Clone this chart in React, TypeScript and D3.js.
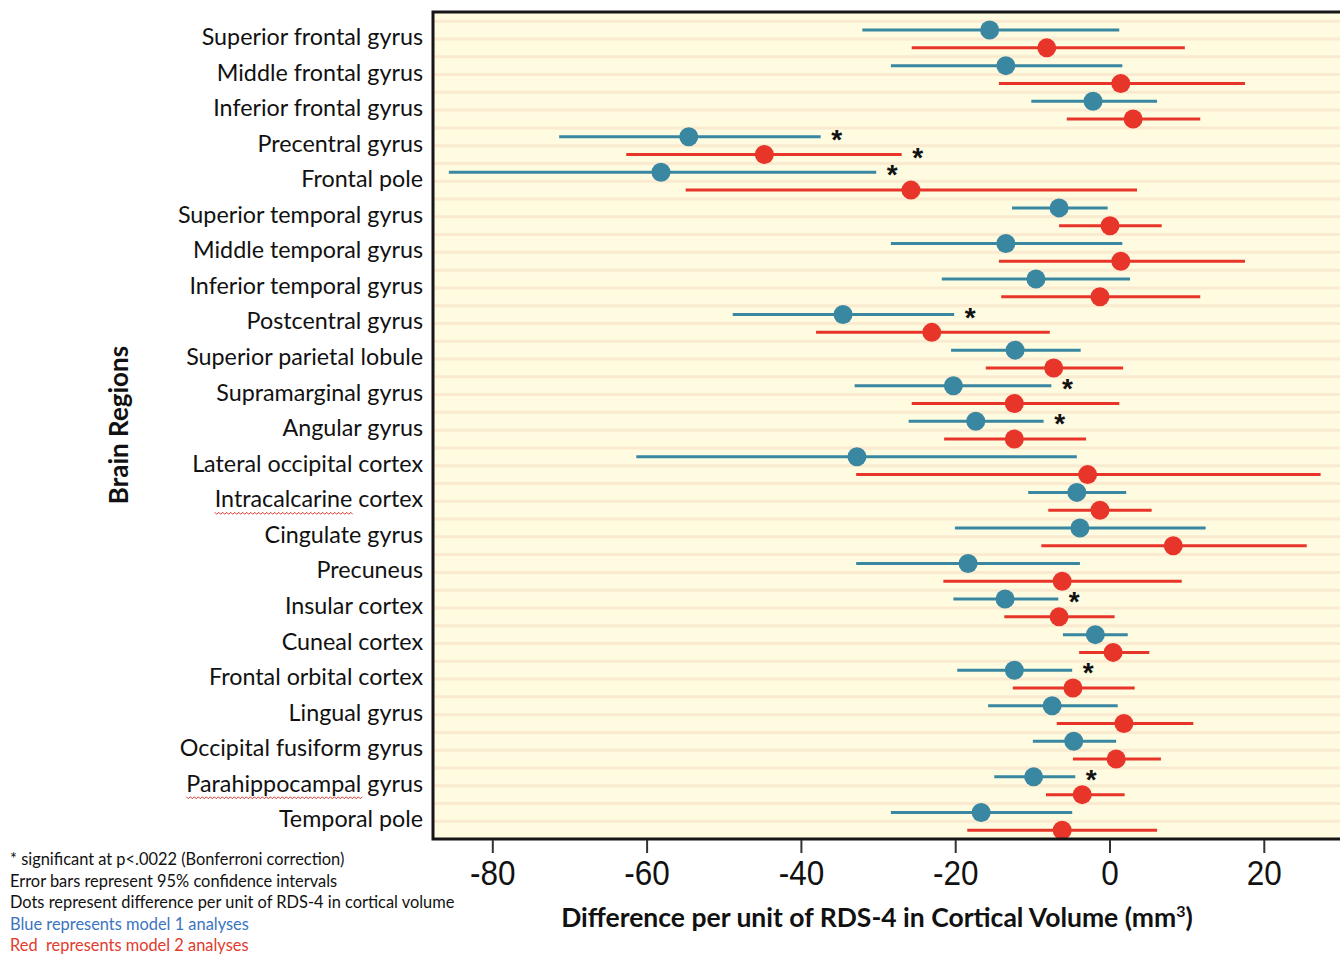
import React, { useEffect, useRef } from 'react';
import * as d3 from 'd3';

const regions = [
  'Superior frontal gyrus', 'Middle frontal gyrus', 'Inferior frontal gyrus', 'Precentral gyrus',
  'Frontal pole', 'Superior temporal gyrus', 'Middle temporal gyrus', 'Inferior temporal gyrus',
  'Postcentral gyrus', 'Superior parietal lobule', 'Supramarginal gyrus', 'Angular gyrus',
  'Lateral occipital cortex', 'Intracalcarine cortex', 'Cingulate gyrus', 'Precuneus',
  'Insular cortex', 'Cuneal cortex', 'Frontal orbital cortex', 'Lingual gyrus',
  'Occipital fusiform gyrus', 'Parahippocampal gyrus', 'Temporal pole',
];

// Model 1 (blue)
const model1Est = [-15.6, -13.5, -2.2, -54.6, -58.2, -6.6, -13.5, -9.6, -34.6, -12.3, -20.3, -17.4, -32.8, -4.3, -3.9, -18.4, -13.6, -1.9, -12.4, -7.5, -4.7, -9.9, -16.7];
const model1Lo = [-32.1, -28.4, -10.2, -71.4, -85.7, -12.7, -28.4, -21.8, -48.9, -20.6, -33.1, -26.1, -61.4, -10.6, -20.1, -32.9, -20.3, -6.1, -19.8, -15.8, -10.0, -15.0, -28.4];
const model1Hi = [1.2, 1.6, 6.1, -37.5, -30.3, -0.3, 1.6, 2.6, -20.2, -3.8, -7.6, -8.6, -4.3, 2.1, 12.4, -3.9, -6.7, 2.3, -4.9, 1.0, 0.8, -4.5, -4.9];

// Model 2 (red)
const model2Est = [-8.2, 1.4, 3.0, -44.8, -25.8, 0.0, 1.4, -1.3, -23.1, -7.3, -12.4, -12.4, -2.9, -1.3, 8.2, -6.2, -6.6, 0.4, -4.8, 1.8, 0.8, -3.6, -6.2];
const model2Lo = [-25.7, -14.4, -5.6, -62.7, -55.0, -6.6, -14.4, -14.1, -38.1, -16.1, -25.7, -21.5, -32.9, -8.0, -8.9, -21.6, -13.7, -4.0, -12.6, -6.9, -4.8, -8.3, -18.5];
const model2Hi = [9.7, 17.5, 11.7, -27.0, 3.5, 6.7, 17.5, 11.7, -7.8, 1.7, 1.2, -3.1, 27.3, 5.4, 25.5, 9.3, 0.6, 5.1, 3.2, 10.8, 6.6, 1.9, 6.1];

const significant = [
  { region: 'Precentral gyrus', model: 1 },
  { region: 'Precentral gyrus', model: 2 },
  { region: 'Frontal pole', model: 1 },
  { region: 'Postcentral gyrus', model: 1 },
  { region: 'Supramarginal gyrus', model: 1 },
  { region: 'Angular gyrus', model: 1 },
  { region: 'Insular cortex', model: 1 },
  { region: 'Frontal orbital cortex', model: 1 },
  { region: 'Parahippocampal gyrus', model: 1 },
];

const misspelled = ['Intracalcarine', 'Parahippocampal'];

const xTicks = [-80, -60, -40, -20, 0, 20];

const footnotes = [
  { text: '* significant at p<.0022 (Bonferroni correction)', color: '#111' },
  { text: 'Error bars represent 95% confidence intervals', color: '#111' },
  { text: 'Dots represent difference per unit of RDS-4 in cortical volume', color: '#111' },
  { text: 'Blue represents model 1 analyses', color: '#3b74c0' },
  { text: 'Red  represents model 2 analyses', color: '#e23a2c' },
];

const BLUE = '#3a87a1';
const RED = '#e8352a';

export default function App() {
  const ref = useRef<SVGSVGElement>(null);

  useEffect(() => {
    const svg = d3.select(ref.current);
    svg.selectAll('*').remove();

    const W = 1340, H = 954;
    const left = 433, top = 12, bottom = 839, right = 1346;

    const x = d3.scaleLinear().domain([-80, 20]).range([492.8, 1264.3]);
    const y = d3.scaleBand<string>().domain(regions).range([21.2, 839.1]).padding(0);
    const step = y.step();
    const rowY = (r: string, m: number) => (y(r) as number) + step / 2 + (m === 1 ? -step / 4 : step / 4);

    const labelFont = 'Lato, "Open Sans", sans-serif';

    // background
    svg.append('rect').attr('x', left).attr('y', top).attr('width', right - left).attr('height', bottom - top).attr('fill', '#fefbe1');

    // stripes
    const stripes = d3.range(0, regions.length * 2).map((k) => 21.2 + k * step / 2);
    svg.append('g').selectAll('line').data(stripes).join('line')
      .attr('x1', left).attr('x2', right).attr('y1', (d) => d).attr('y2', (d) => d)
      .attr('stroke', '#f9ead0').attr('stroke-width', 3);

    // series
    const series = [
      { m: 1, color: BLUE, est: model1Est, lo: model1Lo, hi: model1Hi },
      { m: 2, color: RED, est: model2Est, lo: model2Lo, hi: model2Hi },
    ];
    series.forEach((s) => {
      const g = svg.append('g');
      g.selectAll('line').data(regions).join('line')
        .attr('x1', (_, i) => x(s.lo[i])).attr('x2', (_, i) => x(s.hi[i]))
        .attr('y1', (r) => rowY(r, s.m)).attr('y2', (r) => rowY(r, s.m))
        .attr('stroke', s.color).attr('stroke-width', 3);
      g.selectAll('circle').data(regions).join('circle')
        .attr('cx', (_, i) => x(s.est[i])).attr('cy', (r) => rowY(r, s.m))
        .attr('r', 9.5).attr('fill', s.color);
    });

    // asterisks
    svg.append('g').selectAll('text').data(significant).join('text')
      .attr('x', (d) => {
        const i = regions.indexOf(d.region);
        const hi = d.model === 1 ? model1Hi[i] : model2Hi[i];
        return x(hi) + 16;
      })
      .attr('y', (d) => rowY(d.region, d.model) + 12)
      .attr('text-anchor', 'middle')
      .attr('font-family', 'Liberation Sans, Arial, sans-serif')
      .attr('font-weight', 'bold')
      .attr('font-size', 28)
      .attr('fill', '#111')
      .text('*');

    // frame
    svg.append('path')
      .attr('d', `M${right},${top}H${left}V${bottom}H${right}`)
      .attr('fill', 'none').attr('stroke', '#161616').attr('stroke-width', 3);

    // x ticks
    const tg = svg.append('g');
    tg.selectAll('line').data(xTicks).join('line')
      .attr('x1', (d) => x(d)).attr('x2', (d) => x(d)).attr('y1', bottom + 1).attr('y2', bottom + 14)
      .attr('stroke', '#333').attr('stroke-width', 2);
    tg.selectAll('text').data(xTicks).join('text')
      .attr('transform', (d) => `translate(${x(d)},885) scale(0.9,1)`)
      .attr('text-anchor', 'middle')
      .attr('font-family', 'Liberation Sans, Arial, sans-serif')
      .attr('font-size', 35)
      .attr('fill', '#111')
      .text((d) => String(d));

    // region labels
    const lg = svg.append('g');
    const labels = lg.selectAll('text').data(regions).join('text')
      .attr('x', 423).attr('y', (r) => (y(r) as number) + step / 2 + 6)
      .attr('text-anchor', 'end')
      .attr('font-family', labelFont)
      .attr('font-size', 23.3)
      .attr('fill', '#111')
      .text((r) => r);

    // spell-check squiggles
    labels.each(function (r) {
      const word = misspelled.find((w) => r.startsWith(w));
      if (!word) return;
      const el = this as SVGTextElement;
      const x0 = el.getStartPositionOfChar(0).x;
      const w = el.getSubStringLength(0, word.length);
      const by = (y(r) as number) + step / 2 + 6 + 5;
      let d = `M${x0},${by}`;
      for (let p = 0, k = 0; p < w; p += 2, k++) {
        d += `L${x0 + p + 2},${by + (k % 2 === 0 ? 2 : 0)}`;
      }
      lg.append('path').attr('d', d).attr('fill', 'none').attr('stroke', '#d9342b').attr('stroke-width', 1);
    });

    // y title
    svg.append('text')
      .attr('transform', 'translate(128,425) rotate(-90)')
      .attr('text-anchor', 'middle')
      .attr('font-family', labelFont)
      .attr('font-weight', 'bold')
      .attr('font-size', 26)
      .attr('fill', '#111')
      .text('Brain Regions');

    // x title
    const xt = svg.append('text')
      .attr('x', 877).attr('y', 927)
      .attr('text-anchor', 'middle')
      .attr('font-family', labelFont)
      .attr('font-weight', 'bold')
      .attr('font-size', 26.5)
      .attr('fill', '#111');
    xt.append('tspan').text('Difference per unit of RDS-4 in Cortical Volume (mm');
    xt.append('tspan').attr('font-size', 16).attr('dy', -10).text('3');
    xt.append('tspan').attr('dy', 10).text(')');

    // footnotes
    svg.append('g').selectAll('text').data(footnotes).join('text')
      .attr('x', 10).attr('y', (_, i) => 865 + i * 21.5)
      .attr('font-family', labelFont)
      .attr('font-size', 16.4)
      .attr('fill', (d) => d.color)
      .attr('xml:space', 'preserve')
      .style('white-space', 'pre')
      .text((d) => d.text);

    svg.attr('width', W).attr('height', H);
  }, []);

  return (
    <svg ref={ref} width={1340} height={954} style={{ position: 'absolute', left: 0, top: 0, background: '#fff' }} />
  );
}
